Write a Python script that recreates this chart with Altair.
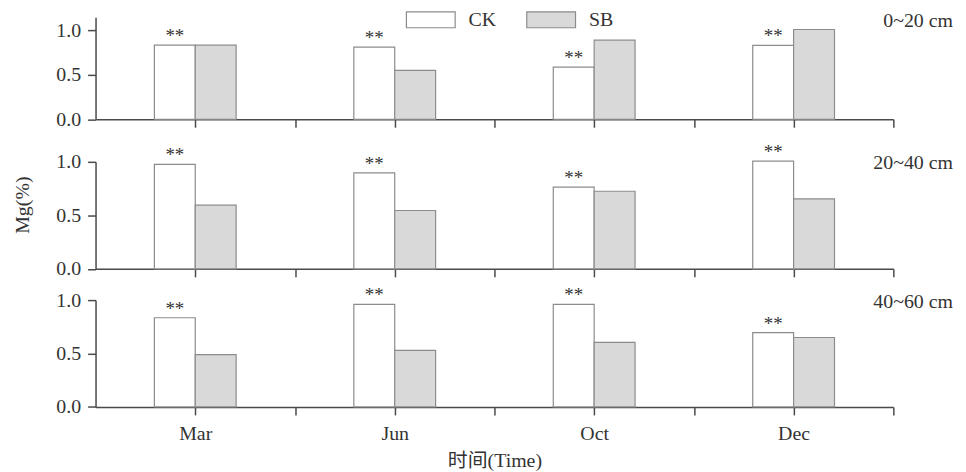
import altair as alt
import pandas as pd

months = ["Mar", "Jun", "Oct", "Dec"]
depths = ["0~20 cm", "20~40 cm", "40~60 cm"]
groups = ["CK", "SB"]
ck_values = [
    [0.835, 0.812, 0.588, 0.833],
    [0.976, 0.897, 0.763, 1.006],
    [0.835, 0.960, 0.960, 0.695],
]
sb_values = [
    [0.835, 0.551, 0.891, 1.011],
    [0.595, 0.545, 0.725, 0.654],
    [0.490, 0.530, 0.605, 0.650],
]
star_text = "**"
y_label = "Mg(%)"
x_label = "时间(Time)"

FONT = "Liberation Serif, Noto Sans CJK SC"
TXT = "#333333"
AX = "#4a4a4a"
BAR_W = 0.41
XMAX = 8
ymaxes = [1.15, 1.0, 1.0]
heights = [102.6, 107.6, 107.4]
label_dy = [10.0, 7.3, 7.7]

label_expr = " : ".join(
    [f"datum.value == {2*i+1} ? '{m}'" for i, m in enumerate(months)]
) + " : ''"


def panel(k):
    rows = []
    for j, m in enumerate(months):
        pos = 2 * j + 1
        rows.append(dict(month=m, group="CK", value=ck_values[k][j],
                         x0=pos - BAR_W, x1=pos, xc=pos - BAR_W / 2))
        rows.append(dict(month=m, group="SB", value=sb_values[k][j],
                         x0=pos, x1=pos + BAR_W, xc=pos + BAR_W / 2))
    df = pd.DataFrame(rows)
    bottom = k == 2
    xaxis = alt.Axis(
        values=list(range(1, XMAX + 1)),
        labels=bottom,
        labelExpr=label_expr,
        labelFontSize=20,
        labelFont=FONT,
        labelColor=TXT,
        labelPadding=9,
        tickSize=8,
        tickColor=AX,
        tickWidth=1.5,
        domainColor=AX,
        domainWidth=1.5,
        grid=False,
        title=x_label if bottom else None,
        titleFontSize=20,
        titleFont=FONT,
        titleFontWeight="normal",
        titleColor=TXT,
        titlePadding=7,
    )
    yaxis_kwargs = dict(
        values=[0, 0.25, 0.5, 0.75, 1.0],
        labelExpr="datum.value == 0.25 || datum.value == 0.75 ? '' : format(datum.value, '.1f')",
        labelFontSize=20,
        labelFont=FONT,
        labelColor=TXT,
        labelPadding=7,
        tickSize=8,
        tickColor=AX,
        tickWidth=1.5,
        domainColor=AX,
        domainWidth=1.5,
        grid=False,
    )
    if k == 1:
        yaxis = alt.Axis(
            title=y_label, titleFontSize=20, titleFont=FONT,
            titleFontWeight="normal", titleColor=TXT,
            titleAngle=270, titleX=-63, titleY=43, titleAlign="center",
            titleBaseline="bottom", **yaxis_kwargs)
    else:
        yaxis = alt.Axis(title=None, **yaxis_kwargs)

    if k == 0:
        legend = alt.Legend(
            orient="none", legendX=327, legendY=-7.7, direction="horizontal",
            title=None,
            symbolType="M-3.0625,-1L3.0625,-1L3.0625,1L-3.0625,1Z",
            symbolSize=256, symbolStrokeColor="#8c8c8c", symbolStrokeWidth=1.2,
            symbolOpacity=1,
            labelFontSize=20, labelFont=FONT, labelColor=TXT,
            labelOffset=28, columnPadding=28,
        )
    else:
        legend = None

    yscale = alt.Scale(domain=[0, ymaxes[k]], nice=False)
    xscale = alt.Scale(domain=[0, XMAX], nice=False)
    bars = alt.Chart(df).mark_rect(stroke="#8c8c8c", strokeWidth=1.2).encode(
        x=alt.X("x0:Q", scale=xscale, axis=xaxis),
        x2="x1:Q",
        y=alt.Y("value:Q", scale=yscale, axis=yaxis),
        y2=alt.datum(0),
        fill=alt.Fill("group:N", scale=alt.Scale(domain=groups, range=["#ffffff", "#d9d9d9"]),
                      legend=legend),
    )
    stars = alt.Chart(df[df.group == "CK"]).mark_text(
        text=star_text, font=FONT, fontSize=19, color=TXT,
        baseline="alphabetic", dy=-3,
    ).encode(x="xc:Q", y="value:Q")

    depth_df = pd.DataFrame({"depth": [depths[k]]})
    depth_txt = alt.Chart(depth_df).mark_text(
        font=FONT, fontSize=20, color=TXT, align="right", baseline="alphabetic",
        dx=60, dy=label_dy[k],
    ).encode(x=alt.datum(XMAX), y=alt.datum(ymaxes[k]), text="depth:N")

    return alt.layer(bars, stars, depth_txt).properties(width=802, height=heights[k])


p1, p2, p3 = panel(0), panel(1), panel(2)
lower = alt.vconcat(p2, p3, spacing=31, bounds="flush")
chart = alt.vconcat(p1, lower, spacing=42.4, bounds="flush").configure_view(
    stroke=None
).properties(padding={"left": 5, "top": 0, "right": 5, "bottom": 5})

chart.save("out.html", embed_options={"renderer": "svg", "actions": False})
